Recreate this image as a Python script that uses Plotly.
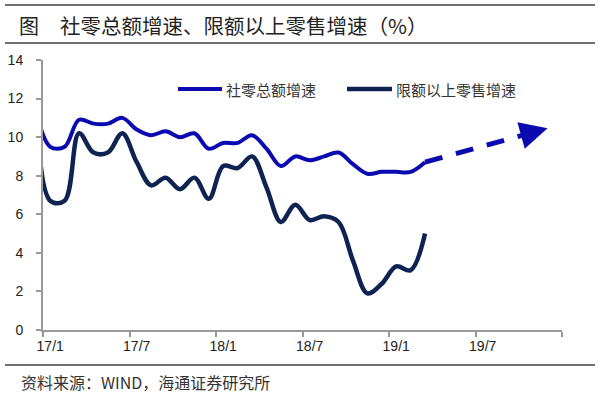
import plotly.graph_objects as go

# ---------------- data ----------------
months = ["16/12",
          "17/1", "17/2", "17/3", "17/4", "17/5", "17/6", "17/7", "17/8", "17/9", "17/10", "17/11", "17/12",
          "18/1", "18/2", "18/3", "18/4", "18/5", "18/6", "18/7", "18/8", "18/9", "18/10", "18/11", "18/12",
          "19/1", "19/2", "19/3"]
retail_total = [11.4, 9.5, 9.5, 10.9, 10.7, 10.7, 11.0, 10.4, 10.1, 10.3, 10.0, 10.2, 9.4,
                9.7, 9.7, 10.1, 9.4, 8.5, 9.0, 8.8, 9.0, 9.2, 8.6, 8.1, 8.2,
                8.2, 8.2, 8.7]
retail_above = [13.0, 6.7, 6.7, 10.2, 9.2, 9.2, 10.2, 8.7, 7.5, 7.9, 7.3, 7.9, 6.8,
                8.5, 8.4, 9.0, 7.4, 5.6, 6.5, 5.7, 5.9, 5.6, 3.6, 1.9, 2.4,
                3.3, 3.1, 5.0]
series_names = ["社零总额增速", "限额以上零售增速"]
tick_vals = [0, 6, 12, 18, 24, 30]
tick_text = ["17/1", "17/7", "18/1", "18/7", "19/1", "19/7"]
# forecast arrow (start at last actual point, end point of arrow head)
arrow_start = (26, 8.7)
arrow_end = (34.5, 10.46)

x_idx = [i - 1 for i in range(len(months))]  # 17/1 -> 0

BLUE = "#0a0ab0"
NAVY = "#0f2352"
CJK = "Noto Sans CJK SC"

fig = go.Figure()
fig.add_trace(go.Scatter(x=x_idx, y=retail_total, mode="lines", name=series_names[0],
                         line=dict(color=BLUE, width=4, shape="spline", smoothing=1.0)))
fig.add_trace(go.Scatter(x=x_idx, y=retail_above, mode="lines", name=series_names[1],
                         line=dict(color=NAVY, width=4.5, shape="spline", smoothing=1.0)))

# dashed forecast arrow
dx = arrow_end[0] - arrow_start[0]
dy = arrow_end[1] - arrow_start[1]
frac = 0.83
fig.add_shape(type="line", xref="x", yref="y",
              x0=arrow_start[0], y0=arrow_start[1],
              x1=arrow_start[0] + dx * frac, y1=arrow_start[1] + dy * frac,
              line=dict(color=BLUE, width=5, dash="18px,14px"))
fig.add_annotation(x=arrow_end[0], y=arrow_end[1], xref="x", yref="y",
                   ax=arrow_start[0] + dx * 0.88, ay=arrow_start[1] + dy * 0.88,
                   axref="x", ayref="y", text="", showarrow=True,
                   arrowhead=2, arrowsize=1.1, arrowwidth=5, arrowcolor=BLUE)

W, H = 600, 398
L, R, T, B = 43, 38, 60, 68
pw, ph = W - L - R, H - T - B


def px(x):
    return (x - L) / pw


def py(y):
    return (H - B - y) / ph


# rules
for yy, x0, x1 in [(5, 5, 595), (43, 5, 595), (365, 5, 595)]:
    fig.add_shape(type="line", xref="paper", yref="paper",
                  x0=px(x0), x1=px(x1), y0=py(yy), y1=py(yy),
                  line=dict(color="#404040", width=1.5))

# legend (drawn manually for exact sample length)
for (lx0, lx1, tx), name, col, wd in [((178, 222, 224), series_names[0], BLUE, 4),
                                       ((347, 392, 394), series_names[1], NAVY, 4.5)]:
    fig.add_shape(type="line", xref="paper", yref="paper",
                  x0=px(lx0), x1=px(lx1), y0=py(89), y1=py(89),
                  line=dict(color=col, width=wd))
    fig.add_annotation(xref="paper", yref="paper", x=px(tx), y=py(89), xanchor="left", yanchor="middle",
                       text=name, showarrow=False, font=dict(family=CJK, size=15, color="#333"))

fig.add_annotation(xref="paper", yref="paper", x=px(17), y=py(25), xanchor="left", yanchor="middle",
                   text="图", showarrow=False, font=dict(family=CJK, size=20, color="#222"))
fig.add_annotation(xref="paper", yref="paper", x=px(58), y=py(25), xanchor="left", yanchor="middle",
                   text="社零总额增速、限额以上零售增速（%）", showarrow=False,
                   font=dict(family=CJK, size=20.5, color="#222"))
fig.add_annotation(xref="paper", yref="paper", x=px(19), y=py(382), xanchor="left", yanchor="middle",
                   text="资料来源：WIND，海通证券研究所", showarrow=False,
                   font=dict(family=CJK, size=16, color="#333"))

fig.update_layout(
    width=W, height=H, margin=dict(l=L, r=R, t=T, b=B, autoexpand=False),
    paper_bgcolor="white", plot_bgcolor="white",
    font=dict(family="Liberation Sans, Arial", color="#222"),
    showlegend=False,
    xaxis=dict(range=[-0.5, 35.5], tickvals=tick_vals, ticktext=tick_text,
               ticks="outside", ticklen=2, tickcolor="rgba(0,0,0,0)",
               showline=True, linecolor="#999", linewidth=2, showgrid=False, zeroline=False,
               tickfont=dict(size=14, color="#222"), automargin=False,
               minor=dict(tickmode="linear", tick0=-0.5, dtick=6, ticks="outside",
                          ticklen=5, tickcolor="#999", tickwidth=1.5, showgrid=False)),
    yaxis=dict(range=[0, 14], dtick=2, ticks="outside", ticklen=5, tickcolor="#999", tickwidth=1.5,
               showline=True, linecolor="#999", linewidth=2, showgrid=False, zeroline=False,
               tickfont=dict(size=14, color="#222"), ticklabelstandoff=10, automargin=False),
)

fig.write_html("out.html", config={"displayModeBar": False},
               post_script="document.body.style.margin='0px';document.body.style.overflow='hidden';")
